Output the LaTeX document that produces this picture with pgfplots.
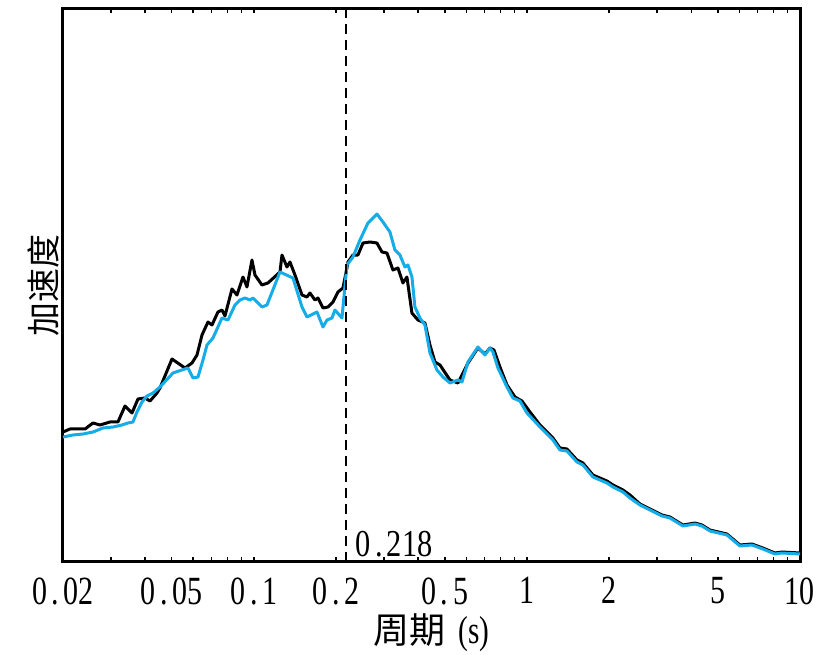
\documentclass[border=0pt]{standalone}
\usepackage{fontspec}
\usepackage{pgfplots}
\pgfplotsset{compat=1.18}
\newfontfamily\cjk{Noto Sans CJK SC}
\newfontfamily\numfont[FakeStretch=0.75]{Liberation Serif}
\newfontfamily\numfontb[FakeStretch=0.8]{Liberation Serif}
\newcommand\dt{\hbox to 0.42em{\hss.\hss}}
\definecolor{cyanline}{RGB}{22,172,232}

\pgfplotstableread{
T v
0.02000 130
0.02122 133
0.02408 133
0.02575 139
0.02732 137
0.02972 140
0.03179 140
0.03373 156
0.03578 149
0.03764 163
0.03993 164
0.04165 161
0.04418 169
0.04531 174
0.05013 203
0.05595 194
0.05935 199
0.06191 207
0.06457 227
0.06792 240
0.07025 237
0.07389 250
0.07643 252
0.07839 246
0.08314 273
0.08672 267
0.09122 285
0.09435 275
0.09841 302
0.10094 287
0.10707 277
0.11262 279
0.12463 290
0.12675 307
0.13221 295
0.13559 300
0.14144 287
0.15004 267
0.15650 265
0.16051 269
0.16742 262
0.17171 264
0.17911 254
0.18682 255
0.19486 260
0.20324 270
0.21198 274
0.21740 289
0.22110 300
0.23062 307
0.24056 307
0.25092 319
0.26618 320
0.28232 319
0.29448 310
0.30716 309
0.32310 292
0.33700 294
0.35150 279
0.36356 285
0.37922 249
0.39890 242
0.42320 239
0.44146 217
0.46048 200
0.48034 197
0.52252 182
0.55906 179
0.60824 199
0.66154 214
0.70198 208
0.73226 214
0.75736 212
0.79660 195
0.84502 177
0.90396 165
0.95892 161
1.02588 150
1.11616 137
1.24526 124
1.32082 114
1.40110 113
1.52448 102
1.60366 99
1.74482 87
1.96324 81
2.0650 77
2.2472 72
2.3838 67
2.5936 58
2.8220 53
3.1222 47
3.3400 45
3.7274 37
4.1236 39
4.3742 37
4.6790 32
5.400 28
6.026 17
6.668 18
7.314 14
8.092 9
8.584 10
10.00 9
}\blackdata

\pgfplotstableread{
T v
0.02000 125
0.02176 127
0.02367 128
0.02575 130
0.02802 134
0.03048 135
0.03289 137
0.03459 139
0.03608 140
0.03732 150
0.03893 160
0.04060 166
0.04271 169
0.04531 175
0.05055 189
0.05738 194
0.05985 184
0.06243 185
0.06512 202
0.06735 217
0.07084 224
0.07643 244
0.08039 242
0.08527 257
0.08895 262
0.09278 264
0.09677 262
0.09925 264
0.10707 255
0.11168 257
0.12463 290
0.13907 284
0.15004 255
0.15650 245
0.17027 250
0.17911 235
0.18525 242
0.19323 244
0.19815 252
0.21020 244
0.21924 297
0.23062 305
0.24466 322
0.26172 339
0.28232 348
0.29698 340
0.31502 330
0.32860 312
0.34272 307
0.35748 295
0.36664 297
0.37922 285
0.38894 255
0.40568 244
0.42320 237
0.44146 209
0.46832 192
0.49262 185
0.52252 179
0.55906 182
0.57824 180
0.60824 200
0.66154 215
0.70198 207
0.73226 214
0.75100 210
0.78334 194
0.84502 175
0.88886 164
0.94288 161
1.00022 149
1.11616 135
1.24526 122
1.32082 112
1.40110 111
1.52448 100
1.60366 97
1.74482 85
1.96324 79
2.0650 75
2.2472 70
2.3838 64
2.5936 57
2.8220 52
3.1222 46
3.3400 44
3.7274 36
4.1236 38
4.3742 36
4.6790 31
5.400 27
6.026 16
6.668 17
7.314 13
8.092 8
8.584 9
10.00 8
}\cyandata

\begin{document}
\begin{tikzpicture}
\begin{axis}[
  name=ax,
  scale only axis, width=368.5pt, height=277pt,
  xmode=log, xmin=0.02, xmax=10, ymin=0, ymax=554,
  axis line style={line width=1.5pt},
  ytick=\empty,
  xtick={0.02,0.05,0.1,0.2,0.5,1,2,5,10},
  xticklabels={{0\dt02},{0\dt05},{0\dt1},{0\dt2},{0\dt5},1,2,5,10},
  minor xtick={0.03,0.04,0.06,0.07,0.08,0.09,0.3,0.4,0.6,0.7,0.8,0.9,3,4,6,7,8,9},
  tick align=inside,
  major tick length=2.5pt, minor tick length=2.5pt,
  every tick/.style={black, line width=0.8pt},
  xticklabel style={font=\fontsize{20}{22}\numfont, inner sep=0pt, yshift=-7.5pt},
  xlabel={{\cjk 周期}\hspace{0.35em}{\fontsize{19.5}{22}\numfont (s)}},
  xlabel style={font=\fontsize{18}{20}\numfont, at={(axis description cs:0.5,0)}, anchor=base, inner sep=0pt, text height=12pt, text depth=3pt, yshift=-41pt},
  ylabel={加速度},
  ylabel style={font=\fontsize{17}{19}\cjk, at={(axis description cs:0,0.5)}, anchor=south, inner sep=1.5pt},
]
\addplot[black, line width=1.5pt, line join=round] table[x=T, y=v] {\blackdata};
\addplot[cyanline, line width=1.5pt, line join=round] table[x=T, y=v] {\cyandata};
\addplot[black, line width=1pt, dash pattern=on 5pt off 3pt] coordinates {(0.218,0) (0.218,554)};
\node[anchor=base west, inner sep=0pt, xshift=4.5pt, yshift=2.5pt, font=\fontsize{19}{21}\numfontb] at (axis cs:0.218,0) {0\dt218};
\end{axis}
\path (ax.south west) ++(-31.5pt,-46.5pt);
\path (ax.north east) ++(9pt,4pt);
\end{tikzpicture}
\end{document}
